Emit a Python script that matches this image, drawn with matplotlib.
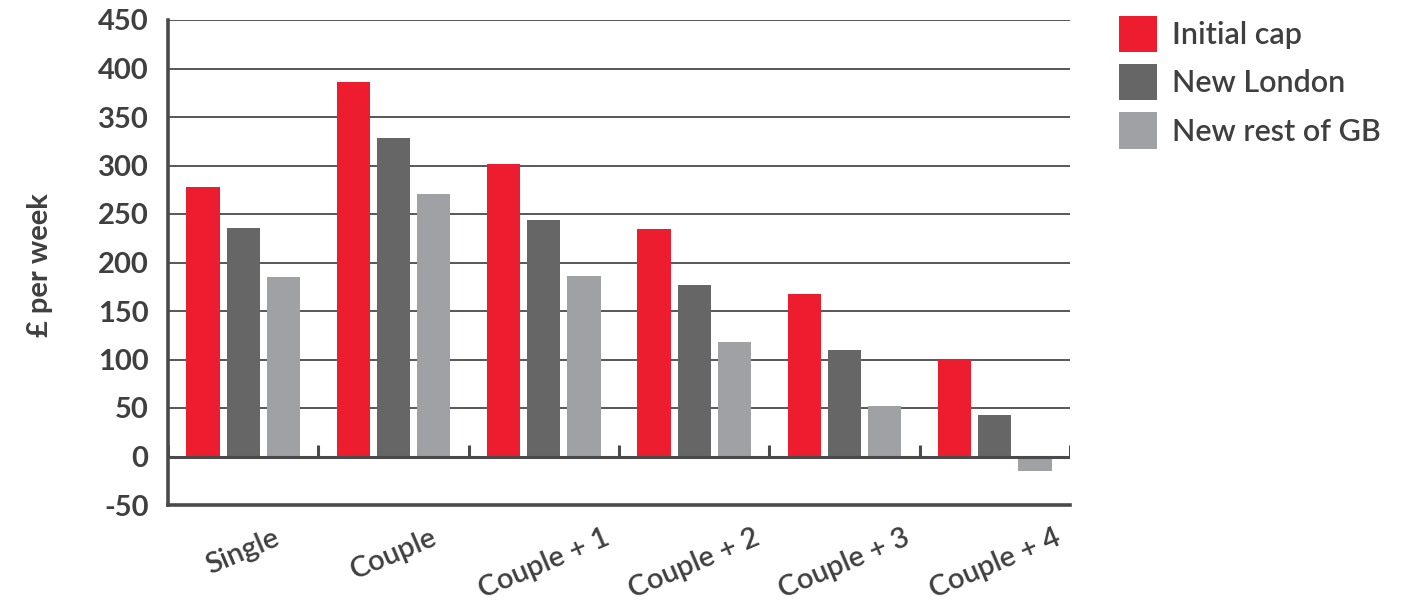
import numpy as np
import matplotlib
matplotlib.use("Agg")
import matplotlib.pyplot as plt
from matplotlib.patches import Patch

plt.rcParams['font.family'] = ['Lato', 'DejaVu Sans']

# Household types and weekly amounts (£)
categories = ["Single", "Couple", "Couple + 1", "Couple + 2", "Couple + 3", "Couple + 4"]
series_names = ["Initial cap", "New London", "New rest of GB"]
initial_cap = [278, 386, 302, 235, 168, 101]
new_london = [236, 328, 244, 177, 110, 43]
new_rest_gb = [185, 271, 186, 118, 52, -15]
y_ticks = [-50, 0, 50, 100, 150, 200, 250, 300, 350, 400, 450]

colors = ["#ED1C2E", "#666666", "#A0A1A5"]
text_color = "#3F3F3F"
line_color = "#4A4A4A"

fig = plt.figure(figsize=(14.04, 6.07), dpi=100)
ax = fig.add_axes([168 / 1404, 1 - 505 / 607, (1070 - 168) / 1404, (505 - 20) / 607])

x = np.arange(len(categories))
width = 0.22
step = 0.267
for i, (vals, name) in enumerate(zip([initial_cap, new_london, new_rest_gb], series_names)):
    ax.bar(x + (i - 1) * step, vals, width=width, color=colors[i], label=name, zorder=3)

ax.set_xlim(-0.5, len(categories) - 0.5)
ax.set_ylim(-50, 450)

# Horizontal gridlines above zero
for t in y_ticks:
    if t > 0:
        ax.axhline(t, color=line_color, lw=1.3, zorder=1)

# Zero baseline with upward ticks at category boundaries
ax.axhline(0, color=line_color, lw=2.2, zorder=4)
bounds = np.arange(len(categories) + 1) - 0.5
ax.vlines(bounds, 0, 12, color=line_color, lw=2.2, zorder=4)

for side in ["top", "right"]:
    ax.spines[side].set_visible(False)
for side in ["left", "bottom"]:
    ax.spines[side].set_color(line_color)
    ax.spines[side].set_linewidth(2.6)

ax.set_yticks(y_ticks)
ax.set_yticklabels([str(t) for t in y_ticks])
ax.tick_params(axis="y", length=0, pad=14, labelsize=21, labelcolor=text_color)
for lbl in ax.get_yticklabels():
    lbl.set_fontweight("bold")

ax.set_xticks(x)
ax.set_xticklabels(categories, rotation=23, ha="center", rotation_mode="default")
ax.tick_params(axis="x", length=0, pad=14, labelsize=21, labelcolor=text_color)
for lbl in ax.get_xticklabels():
    lbl.set_fontweight("semibold")

fig.text(40 / 1404, 1 - 265 / 607, "£ per week", rotation=90, ha="center", va="center",
         fontsize=21, fontweight="bold", color=text_color)

handles = [Patch(facecolor=c, edgecolor="none") for c in colors]
leg = fig.legend(handles, series_names, loc="upper left",
                 bbox_to_anchor=(1119 / 1404, 1 - 16 / 607), frameon=False,
                 borderpad=0, borderaxespad=0, handlelength=1.24, handleheight=1.45,
                 handletextpad=0.48, labelspacing=0.39, fontsize=22, labelcolor=text_color)
for t in leg.get_texts():
    t.set_fontweight("semibold")

fig.savefig("out.png", dpi=100, facecolor="white")
